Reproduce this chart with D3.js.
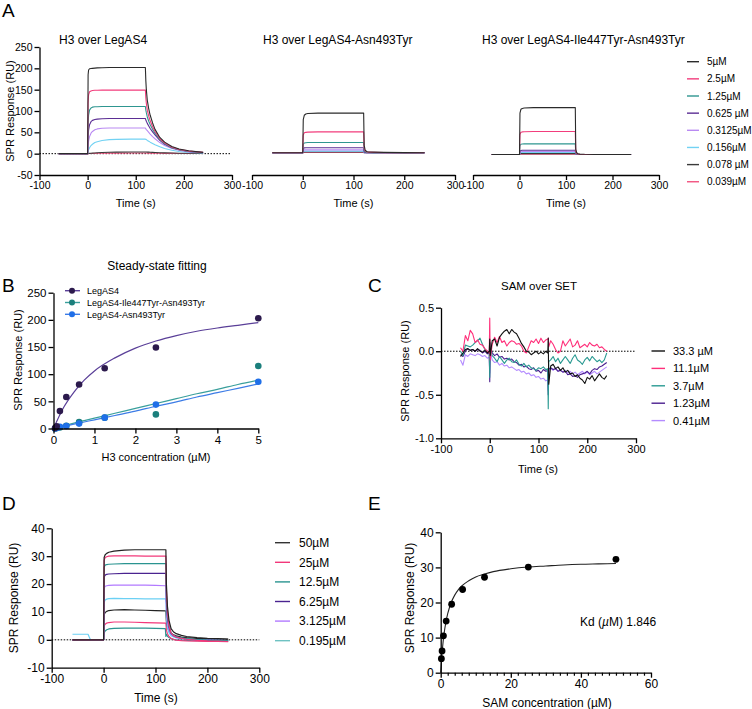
<!DOCTYPE html>
<html><head><meta charset="utf-8">
<script src="https://cdn.jsdelivr.net/npm/d3@7"></script>
<style>body{margin:0;background:#fff}svg{display:block}</style>
</head><body><svg id="c" width="752" height="709"></svg>
<script>
// ---------------- DATA ----------------
// Panel A: sensorgrams, H3 over LegAS4 / variants
const concA = ["5µM","2.5µM","1.25µM","0.625 µM","0.3125µM","0.156µM","0.078 µM","0.039µM"];
const colorsA = ["#2b2b2b","#f23d7c","#2e9690","#5b2e94","#b98af2","#72d2f3","#3a3a3a","#f2527f"];
const titlesA = ["H3 over LegAS4","H3 over LegAS4-Asn493Tyr","H3 over LegAS4-Ile447Tyr-Asn493Tyr"];
const timeA1 = [-60,-1,0,1,2,4,7,10,15,20,30,45,60,90,119,120,121,122,124,127,130,135,140,150,160,175,190,210,240];
const respA1 = [
 [0,0,0,185,196,199,199.5,200,200.5,201,201.5,202,202,202,202,202,170,150,125,105,90,72,57,38,27,17,11,7,3],
 [0,0,0,120,138,145,147,148,148.5,148.5,149,149,149,149,149,149,130,118,102,88,77,63,52,35,25,15,10,6,3],
 [0,0,0,70,90,102,107,109,110,110,110.5,110.5,110.5,110.5,110.5,110.5,102,96,86,76,68,57,48,33,23,14,9,5,2.5],
 [0,0,0,40,55,68,75,78,80,81,82,82.5,82.5,82.5,82.5,82.5,79,76,71,65,59,51,44,31,22,14,9,5,2.5],
 [0,0,0,20,30,40,48,52,56,58,59.5,60,60,60,60,60,58,56.5,54,50,46,40,35,26,19,12,8,4,2],
 [0,0,0,5,9,14,19,22,26,28,31,33,33.5,34,34,34,33.5,33,31,29,27,24,21,16,12,8,5,3,1.5],
 [0,0,0,0.2,0.4,0.6,0.9,1.2,1.6,2,2.6,3.2,3.6,4,4,4,3.9,3.8,3.7,3.5,3.3,3,2.7,2.2,1.8,1.4,1.1,0.8,0.5],
 [0,0,0,0.1,0.2,0.3,0.4,0.5,0.7,0.8,1,1.2,1.3,1.5,1.5,1.5,1.4,1.4,1.3,1.3,1.2,1.1,1,0.9,0.7,0.6,0.5,0.4,0.3]
];
const timeA23 = [-60,-1,0,1,3,6,10,30,119,120,121,123,126,130,140,160,200,240];
const respA2 = [
 [2,2,2,80,90,93,94,95,95,95,20,8,5,4,3.5,3,2.5,2],
 [2,2,2,44,49,50,50.5,51,51,51,12,6,4,3.5,3,2.5,2.2,2],
 [2,2,2,22,25,25.5,26,26,26,26,7,4,3,2.8,2.5,2.3,2.1,2],
 [2,2,2,12,13.5,14,14,14,14,14,4,3,2.5,2.3,2.2,2.1,2,2],
 [2,2,2,8,9,9,9,9,9,9,3,2.5,2.3,2.2,2.1,2,2,2],
 [2,2,2,5,6,6,6,6,6,6,2.5,2.2,2.1,2,2,2,2,2],
 [2,2,2,3.5,4,4,4,4,4,4,2.2,2.1,2,2,2,2,2,2],
 [2,2,2,2.8,3,3,3,3,3,3,2.1,2,2,2,2,2,2,2]
];
const respA3 = [
 [-2,-2,-2,95,104,106,107,108,108,108,10,2,0,-1,-1.5,-2,-2,-2],
 [-2,-2,-2,45,50,51,51.5,52,52,52,5,0,-1,-1.5,-2,-2,-2,-2],
 [-2,-2,-2,19,22,22.5,23,23,23,23,2,-0.5,-1.5,-2,-2,-2,-2,-2],
 [-2,-2,-2,6,7.5,8,8,8,8,8,0,-1,-1.5,-2,-2,-2,-2,-2],
 [-2,-2,-2,3.5,4.5,5,5,5,5,5,-0.5,-1.5,-2,-2,-2,-2,-2,-2],
 [-2,-2,-2,2,2.8,3,3,3,3,3,-1,-1.8,-2,-2,-2,-2,-2,-2],
 [-2,-2,-2,-0.5,0,0,0,0,0,0,-1.5,-2,-2,-2,-2,-2,-2,-2],
 [-2,-2,-2,-1.2,-1,-1,-1,-1,-1,-1,-1.8,-2,-2,-2,-2,-2,-2,-2]
];
const ticksTime = [-100,0,100,200,300];
const ticksA_y = [-50,0,50,100,150,200,250];

// Panel B: steady-state fitting
const namesB = ["LegAS4","LegAS4-Ile447Tyr-Asn493Tyr","LegAS4-Asn493Tyr"];
const colorsB = ["#2c1a4d","#1b7f7c","#1f6fe8"];
const fitColorsB = ["#5a3f98","#3a9f9c","#3c7ce6"];
const concB = [0.039,0.078,0.156,0.3125,0.625,1.25,2.5,5];
const legas4B = [1,4,32,58,81,111,149,203];
const doubleMutB = [0,1,2,5,12,20,26,115];
const singleMutB = [0,1,3,4.5,9,20,44,86];
const fitXB = [0,0.25,0.5,0.75,1,1.5,2,2.5,3,3.5,4,4.5,5];
const fitLegas4B = [0,39,67,89,106,130,148,161,171,179,185,190,195];
const fitDoubleB = [0,5,10,14.5,19,28,37,46,55,64,72,81,89];
const fitSingleB = [0,4,8,12,16,24,32,41,49,58,66,74,82];
const ticksB_x = [0,1,2,3,4,5];
const ticksB_y = [0,50,100,150,200,250];

// Panel C: SAM over SET
const concC = ["33.3 µM","11.1µM","3.7µM","1.23µM","0.41µM"];
const colorsC = ["#111111","#ff2f7a","#2a9a92","#4b1f8f","#b48cff"];
const timeC = [-60,-55,-50,-45,-40,-35,-30,-25,-20,-15,-10,-5,-1,0,1,5,10,15,20,25,30,35,40,45,50,55,60,65,70,75,80,85,90,95,100,105,110,115,119,120,121,125,130,135,140,145,150,155,160,165,170,175,180,185,190,195,200,205,210,215,220,225,230,235,240];
const respC = [
 [-0.06,-0.02,0.02,0.03,0.01,0.02,0.0,0.03,0.0,-0.01,0.01,-0.02, 0.0,0.14,-0.05,
  0.12,0.14,0.06,0.16,0.2,0.23,0.25,0.2,0.25,0.22,0.2,0.15,0.09,0.05,0.0,-0.01,-0.04,-0.02,0.0,-0.03,-0.01,-0.03,0.0,
  -0.02,0.15,-0.38,
  -0.17,-0.15,-0.2,-0.18,-0.22,-0.19,-0.24,-0.22,-0.26,-0.25,-0.29,-0.27,-0.31,-0.33,-0.37,-0.3,-0.32,-0.28,-0.34,-0.3,-0.26,-0.3,-0.32,-0.28],
 [0.04,0.0,0.18,0.12,0.24,0.2,0.1,0.13,0.08,0.07,0.03,0.0, -0.02,0.38,-0.1,
  0.08,0.16,0.1,0.17,0.1,0.12,0.06,0.1,0.12,0.11,0.08,0.09,0.06,0.0,-0.02,0.05,0.12,0.1,0.14,0.09,0.15,0.1,0.13,
  0.14,0.15,0.05,
  0.12,0.08,0.02,-0.02,0.0,0.12,0.06,0.1,0.14,0.05,0.07,0.12,0.04,0.06,0.08,0.05,0.1,0.07,0.06,0.08,0.04,0.05,0.02,0.0],
 [0.0,-0.05,0.07,0.06,0.05,0.07,0.1,0.12,0.15,0.08,0.02,0.0, -0.02,-0.3,0.1,
  -0.05,-0.08,-0.12,-0.06,-0.1,-0.14,-0.1,-0.08,-0.12,-0.13,-0.1,-0.15,-0.17,-0.14,-0.18,-0.16,-0.19,-0.2,-0.22,-0.19,-0.2,-0.18,-0.21,
  -0.2,-0.66,-0.12,
  -0.1,-0.06,-0.12,-0.08,-0.14,-0.1,-0.06,-0.1,-0.14,-0.08,-0.04,-0.1,-0.12,-0.15,-0.1,-0.07,-0.11,-0.06,-0.09,-0.12,-0.1,-0.13,-0.1,-0.02],
 [-0.04,-0.06,0.0,0.03,0.01,0.02,0.0,0.02,0.01,-0.02,0.0,-0.03, -0.02,-0.35,0.05,
  -0.02,-0.05,-0.03,-0.07,-0.06,-0.09,-0.08,-0.1,-0.09,-0.12,-0.13,-0.16,-0.15,-0.18,-0.17,-0.2,-0.21,-0.19,-0.23,-0.22,-0.25,-0.21,-0.23,
  -0.22,-0.5,-0.2,
  -0.19,-0.21,-0.2,-0.23,-0.22,-0.24,-0.23,-0.27,-0.26,-0.29,-0.28,-0.3,-0.27,-0.26,-0.25,-0.23,-0.26,-0.22,-0.2,-0.21,-0.18,-0.17,-0.15,-0.13],
 [-0.1,-0.16,-0.04,-0.06,-0.03,-0.04,-0.05,-0.03,-0.04,-0.06,-0.05,-0.08, -0.07,-0.25,0.0,
  -0.1,-0.13,-0.12,-0.16,-0.14,-0.17,-0.16,-0.19,-0.18,-0.2,-0.22,-0.21,-0.24,-0.23,-0.26,-0.25,-0.28,-0.27,-0.3,-0.29,-0.32,-0.31,-0.34,
  -0.33,-0.45,-0.22,
  -0.2,-0.22,-0.19,-0.23,-0.21,-0.24,-0.22,-0.25,-0.23,-0.26,-0.24,-0.27,-0.25,-0.23,-0.26,-0.24,-0.27,-0.25,-0.23,-0.26,-0.24,-0.22,-0.2,-0.18]
];
const ticksC_y = [-1.0,-0.5,0.0,0.5];

// Panel D: SAM sensorgrams
const colorsD = ["#222222","#f2387a","#2a9490","#4a2390","#b27aff","#6bd0f4","#222222","#f2387a","#2a9490"];
const legendD = ["50µM","25µM","12.5µM","6.25µM","3.125µM","0.195µM"];
const legendColorsD = ["#333333","#f2387a","#2a9490","#4a2390","#b27aff","#6fc2c2"];
const timeD = [-60,-50,-40,-30,-26,-24,-20,-10,-1,0,1,3,6,10,20,40,60,80,100,119,120,121,123,126,130,135,140,150,160,180,200,220,240];
const respD = [
 [0,0,0,0,0,0,0,0,0,0, 29.5,30.5,31,31.4,31.8,32.2,32.3,32.3,32.3,32.3, 32.3,20,12,7,4,2.8,2.2,1.6,1.2,0.8,0.5,0.4,0.3],
 [0,0,0,0,0,0,0,0,0,0, 28.5,29.5,29.8,30,30.1,30.1,30.1,30,30,30, 30,18,10,5,2.5,1.5,1,0.5,0.2,-0.2,-0.4,-0.5,-0.6],
 [0,0,0,0,0,0,0,0,0,0, 26,26.8,27,27.1,27.2,27.3,27.3,27.3,27.3,27.3, 27.3,16,9,5,2.5,1.6,1.1,0.7,0.4,0.1,-0.1,-0.2,-0.3],
 [0,0,0,0,0,0,0,0,0,0, 22.5,23.2,23.5,23.6,23.7,23.8,23.8,23.8,23.8,23.8, 23.8,14,8,4.5,2.3,1.5,1,0.6,0.3,0,-0.1,-0.2,-0.3],
 [0,0,0,0,0,0,0,0,0,0, 18.5,19.2,19.4,19.5,19.6,19.6,19.6,19.6,19.5,19.4, 19.4,11,6,3.5,2,1.3,0.9,0.5,0.3,0,-0.1,-0.2,-0.3],
 [2,2,2,2,0.3,0,0,0,0,0, 13.5,14.3,14.6,14.8,14.9,14.8,14.8,14.7,14.7,14.7, 14.7,8,4.5,2.5,1.5,1,0.7,0.4,0.2,0,-0.1,-0.2,-0.3],
 [0,0,0,0,0,0,0,0,0,0, 9,9.8,10.2,10.5,10.7,10.8,10.7,10.6,10.5,10.4, 10.4,6.5,4.5,3.2,2.3,1.8,1.4,1,0.8,0.5,0.4,0.3,0.2],
 [0,0,0,0,0,0,0,0,0,0, 5,5.6,6,6.2,6.4,6.4,6.3,6.2,6.1,6, 6,3.5,2.2,1.2,0.5,0.1,-0.1,-0.3,-0.4,-0.5,-0.6,-0.6,-0.7],
 [0,0,0,0,0,0,0,0,0,0, 2.5,3.2,3.6,3.9,4.1,4.2,4.2,4.2,4.1,4, 1.2,2,1.3,0.8,0.4,0.2,0,-0.1,-0.2,-0.3,-0.3,-0.3,-0.3]
];
const ticksD_y = [-10,0,10,20,30,40];

// Panel E: SAM steady state
const concE = [0.195,0.39,0.78,1.5625,3.125,6.25,12.5,25,50];
const respE = [4.0,6.2,10.5,14.7,19.5,23.7,27.2,30.1,32.3];
const fitXE = [0,0.25,0.5,1,1.5,2,3,4,5,6,8,10,12.5,15,20,25,30,35,40,45,50];
const fitYE = [0,3.8,6.9,11.4,14.5,16.8,20,22.1,23.6,24.7,26.2,27.3,28.1,28.8,29.6,30.1,30.4,30.7,30.9,31.0,31.1];
const kdE = "1.846";
const ticksE_x = [0,20,40,60];
const ticksE_y = [0,10,20,30,40];

// ---------------- DRAWING ----------------
const FONT = "'Liberation Sans', Arial, Helvetica, sans-serif";
const svg = d3.select('#c');

function styleAxis(g, fs){
  g.select('.domain').attr('stroke','#000').attr('stroke-width',1.3);
  g.selectAll('.tick line').attr('stroke','#000').attr('stroke-width',1.3);
  g.selectAll('.tick text').attr('font-family',FONT).attr('font-size',fs).attr('fill','#000');
}
function xAxis(x, y0, ticks, fs, fmt){
  const g = svg.append('g').attr('transform',`translate(0,${y0})`)
    .call(d3.axisBottom(x).tickValues(ticks).tickSize(5).tickSizeOuter(0).tickPadding(2).tickFormat(fmt || (d=>String(d))));
  styleAxis(g, fs); return g;
}
function yAxis(y, x0, ticks, fs, fmt){
  const g = svg.append('g').attr('transform',`translate(${x0},0)`)
    .call(d3.axisLeft(y).tickValues(ticks).tickSize(5).tickSizeOuter(0).tickPadding(2).tickFormat(fmt || (d=>String(d))));
  styleAxis(g, fs); return g;
}
function text(x, y, s, fs, anchor, rot){
  const t = svg.append('text').attr('font-family',FONT).attr('font-size',fs).attr('fill','#000')
    .attr('text-anchor',anchor||'middle');
  if(rot) t.attr('transform',`translate(${x},${y}) rotate(-90)`); else t.attr('x',x).attr('y',y);
  t.text(s); return t;
}
function zeroLine(x, y, x0, x1){
  svg.append('line').attr('x1',x(x0)).attr('x2',x(x1)).attr('y1',y(0)).attr('y2',y(0))
    .attr('stroke','#000').attr('stroke-width',1).attr('stroke-dasharray','1.5,1.5');
}
function trace(x, y, ts, vs, color, w){
  const line = d3.line().x((d,i)=>x(ts[i])).y(d=>y(d));
  svg.append('path').attr('d',line(vs)).attr('fill','none').attr('stroke',color).attr('stroke-width',w||1).attr('stroke-linejoin','round');
}

// Panel labels
text(2,17,"A",19,'start');
text(2,292,"B",19,'start');
text(368,292,"C",19,'start');
text(2,510,"D",19,'start');
text(368,510,"E",19,'start');

// ---- Panel A ----
const yA = d3.scaleLinear().domain([-50,250]).range([175,47]);
const xA = [
  d3.scaleLinear().domain([-100,300]).range([39.5,232]),
  d3.scaleLinear().domain([-100,300]).range([252,455]),
  d3.scaleLinear().domain([-100,300]).range([473,659])
];
const respAll = [respA1, respA2, respA3];
const timesAll = [timeA1, timeA23, timeA23];
const titleX = [59,263,482];
zeroLine(xA[0], yA, -100, 297);
for(let p=0;p<3;p++){
  for(let i=respAll[p].length-1;i>=0;i--) trace(xA[p], yA, timesAll[p], respAll[p][i], colorsA[i], 1.1);
  xAxis(xA[p], 175, ticksTime, 10.5);
  text(titleX[p], 44, titlesA[p], 12, 'start');
  text((xA[p].range()[0]+xA[p].range()[1])/2, 207, "Time (s)", 11);
}
yAxis(yA, 39.5, ticksA_y, 10.5);
text(14, 111, "SPR Response (RU)", 11, 'middle', true);
concA.forEach((c,i)=>{
  const yy = 61.7 + i*17.15;
  svg.append('line').attr('x1',687).attr('x2',699).attr('y1',yy).attr('y2',yy).attr('stroke',colorsA[i]).attr('stroke-width',1.4);
  text(707, yy+3.6, c, 10, 'start');
});

// ---- Panel B ----
const xB = d3.scaleLinear().domain([0,5]).range([53.5,258.3]);
const yB = d3.scaleLinear().domain([0,250]).range([428.5,292.7]);
const ptsB = [legas4B, doubleMutB, singleMutB];
const fitsB = [fitLegas4B, fitDoubleB, fitSingleB];
const fitLine = d3.line().curve(d3.curveMonotoneX);
[1,2,0].forEach(k=>{
  svg.append('path').attr('d', fitLine(fitXB.map((xv,i)=>[xB(xv), yB(fitsB[k][i])])))
    .attr('fill','none').attr('stroke',fitColorsB[k]).attr('stroke-width',1.2);
});
[1,2,0].forEach(k=>{
  svg.append('g').selectAll('circle').data(ptsB[k]).join('circle')
    .attr('cx',(d,i)=>xB(concB[i])).attr('cy',d=>yB(d)).attr('r',3.3).attr('fill',colorsB[k]);
});
xAxis(xB, 428.5, ticksB_x, 11.5);
yAxis(yB, 53.5, ticksB_y, 11.5);
text(157, 270, "Steady-state fitting", 12);
text(156, 461, "H3 concentration (µM)", 11);
text(22, 360, "SPR Response (RU)", 11, 'middle', true);
namesB.forEach((n,i)=>{
  const yy = 290.7 + i*11.8;
  svg.append('line').attr('x1',65).attr('x2',80).attr('y1',yy).attr('y2',yy).attr('stroke',fitColorsB[i]).attr('stroke-width',1.4);
  svg.append('circle').attr('cx',72).attr('cy',yy).attr('r',3).attr('fill',colorsB[i]);
  text(87, yy+3.2, n, 9, 'start');
});

// ---- Panel C ----
const xC = d3.scaleLinear().domain([-100,300]).range([441,636]);
const yC = d3.scaleLinear().domain([-1,0.5]).range([438.3,307.7]);
zeroLine(xC, yC, -100, 300);
for(let i=respC.length-1;i>=0;i--) trace(xC, yC, timeC, respC[i], colorsC[i], 1.1);
xAxis(xC, 438.3, ticksTime, 11);
yAxis(yC, 441, ticksC_y, 11, d=>d.toFixed(1));
text(539, 290, "SAM over SET", 11.5);
text(538, 473, "Time (s)", 11);
text(409, 371, "SPR Response (RU)", 11, 'middle', true);
concC.forEach((c,i)=>{
  const yy = 351 + i*17.4;
  svg.append('line').attr('x1',651.5).attr('x2',665).attr('y1',yy).attr('y2',yy).attr('stroke',colorsC[i]).attr('stroke-width',1.4);
  text(673, yy+4, c, 11, 'start');
});

// ---- Panel D ----
const xD = d3.scaleLinear().domain([-100,300]).range([51.7,259.3]);
const yD = d3.scaleLinear().domain([-10,40]).range([667.7,528.3]);
zeroLine(xD, yD, -100, 300);
for(let i=respD.length-1;i>=0;i--) trace(xD, yD, timeD, respD[i], colorsD[i], 1.2);
xAxis(xD, 667.7, ticksTime, 12);
yAxis(yD, 51.7, ticksD_y, 12);
text(156, 702, "Time (s)", 12);
text(18, 598, "SPR Response (RU)", 12, 'middle', true);
legendD.forEach((c,i)=>{
  const yy = 542.7 + i*19.6;
  svg.append('line').attr('x1',275).attr('x2',290).attr('y1',yy).attr('y2',yy).attr('stroke',legendColorsD[i]).attr('stroke-width',1.4);
  text(299, yy+4.2, c, 12, 'start');
});

// ---- Panel E ----
const xE = d3.scaleLinear().domain([0,60]).range([440.7,651]);
const yE = d3.scaleLinear().domain([0,40]).range([672.7,532.3]);
svg.append('path').attr('d', fitLine(fitXE.map((xv,i)=>[xE(xv), yE(fitYE[i])])))
  .attr('fill','none').attr('stroke','#222').attr('stroke-width',1.1);
svg.append('g').selectAll('circle').data(respE).join('circle')
  .attr('cx',(d,i)=>xE(concE[i])).attr('cy',d=>yE(d)).attr('r',3.4).attr('fill','#000');
const minorE = d3.range(0,61,2).filter(v=>v%20!==0);
const gm = svg.append('g').attr('transform','translate(0,672.7)')
  .call(d3.axisBottom(xE).tickValues(minorE).tickSize(3).tickFormat(''));
gm.select('.domain').remove();
gm.selectAll('.tick line').attr('stroke','#000').attr('stroke-width',1.2);
xAxis(xE, 672.7, ticksE_x, 12);
yAxis(yE, 440.7, ticksE_y, 12);
text(547, 707, "SAM concentration (µM)", 12);
text(414, 598, "SPR Response (RU)", 12, 'middle', true);
const kd = svg.append('text').attr('font-family',FONT).attr('font-size',12).attr('x',580).attr('y',626).attr('fill','#000');
kd.append('tspan').text('Kd (');
kd.append('tspan').attr('font-style','italic').text('µ');
kd.append('tspan').text('M) ' + kdE);
</script></body></html>
